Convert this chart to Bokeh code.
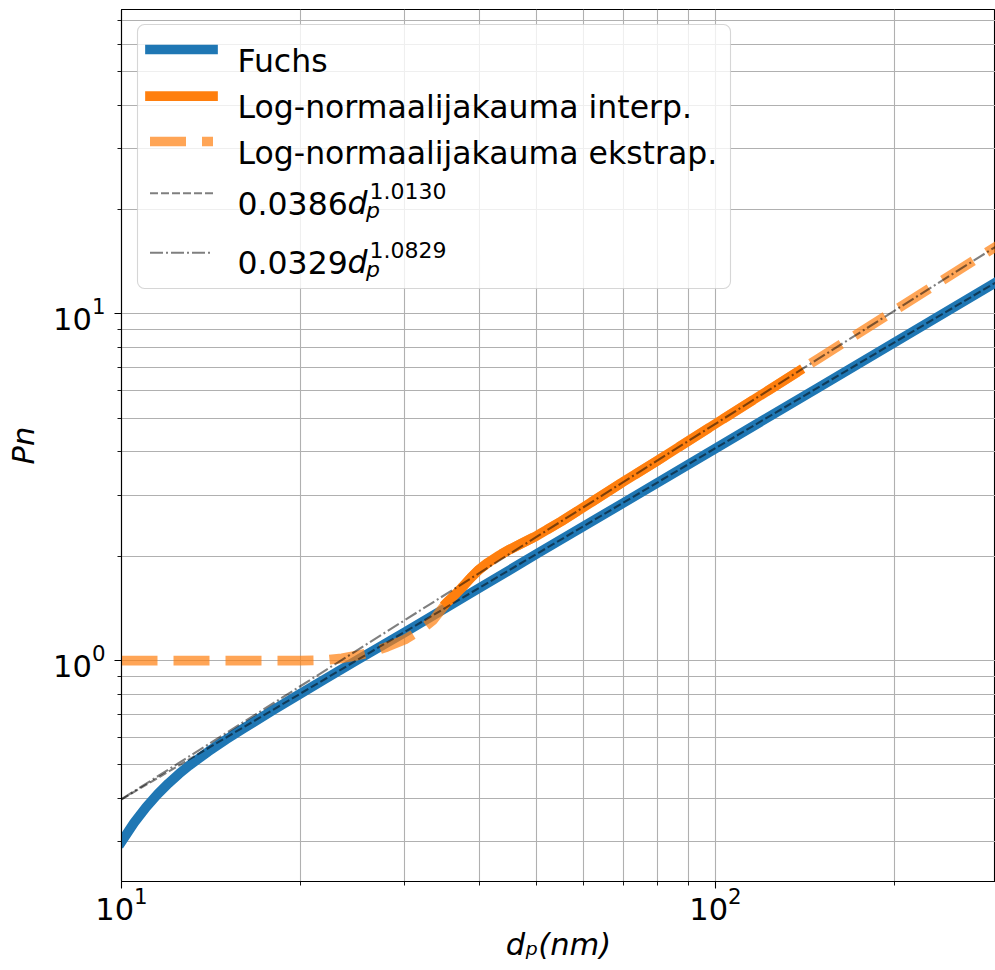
import math
from bokeh.plotting import figure
from bokeh.models import (FixedTicker, LogTickFormatter, Label, Arrow,
                          BoxAnnotation, Range1d)
from bokeh.embed import file_html
from bokeh.resources import INLINE

# ---------------- data ----------------
d_fuchs = [10, 10.5, 11, 11.5, 12, 12.5, 13, 14, 15, 16, 18, 20, 22, 25, 30,
           40, 50, 70, 100, 150, 200, 300]
pn_fuchs = [0.300, 0.3406, 0.3776, 0.4115, 0.4425, 0.4712, 0.498, 0.5464,
            0.5919, 0.6352, 0.7192, 0.802, 0.884, 1.006, 1.207, 1.617, 2.03,
            2.85, 4.09, 6.17, 8.26, 12.47]

d_interp = [35.3, 36.3, 37.5, 38.7, 40, 41.3, 43, 45, 47, 50, 55, 60, 70, 80,
            100, 120, 138]
pn_interp = [1.47, 1.54, 1.63, 1.73, 1.83, 1.91, 2.00, 2.09, 2.17, 2.29, 2.52,
             2.77, 3.28, 3.78, 4.82, 5.87, 6.83]

d_ekstrap = [10, 15, 20, 22, 23.5, 25, 26.5, 28, 30, 32, 33.5, 35.3, 36.3,
             37.5, 38.7, 40, 41.3, 43, 45, 47, 50, 55, 60, 70, 80, 100, 120,
             138, 150, 200, 250, 300]
pn_ekstrap = [1.0, 1.0, 1.0, 1.003, 1.015, 1.035, 1.06, 1.095, 1.15, 1.23,
              1.31, 1.47, 1.54, 1.63, 1.73, 1.83, 1.91, 2.00, 2.09, 2.17, 2.29,
              2.52, 2.77, 3.28, 3.78, 4.82, 5.87, 6.83, 7.48, 10.21, 13.0,
              15.83]

d_fit1 = [10, 300]
pn_fit1 = [0.3977, 12.47]
d_fit2 = [10, 300]
pn_fit2 = [0.3982, 15.83]

x_major_ticks = [10, 100]
x_minor_ticks = [20, 30, 40, 50, 60, 70, 80, 90, 200]
y_major_ticks = [1, 10]
y_minor_ticks = [0.3, 0.4, 0.5, 0.6, 0.7, 0.8, 0.9, 2, 3, 4, 5, 6, 7, 8, 9,
                 20, 30, 40, 50, 60, 70]

legend_labels = ["Fuchs", "Log-normaalijakauma interp.",
                 "Log-normaalijakauma ekstrap."]
fit_coefs = ["0.0386", "0.0329"]
fit_exps = ["1.0130", "1.0829"]
x_label = "d\u209a(nm)"
y_label = "Pn"

# ---------------- styling ----------------
BLUE = "#1f77b4"
ORANGE = "#ff7f0e"
FONT = "DejaVu Sans"
FS = "30.5px"
FS_LEG = "31.5px"
FS_SMALL = "22px"
LW = 9.7
GREY_LW = 2.1
GRID = "#b0b0b0"

W, H = 995, 970
FL, FT, FB = 121, 9, 881   # frame left / top / bottom in canvas pixels
X_LO, X_HI = 10, 296.1
Y_LO, Y_HI = 0.2305, 75.5


def sx(cx):
    return cx - FL


def sy(cy):
    return FB - cy


p = figure(width=W, height=H, x_axis_type="log", y_axis_type="log",
           x_range=Range1d(X_LO, X_HI), y_range=Range1d(Y_LO, Y_HI),
           output_backend="svg", toolbar_location=None,
           min_border_left=FL, min_border_right=0, min_border_top=FT,
           min_border_bottom=H - FB)
p.background_fill_color = "white"
p.border_fill_color = "white"
p.outline_line_color = "black"
p.outline_line_width = 1.1

p.xaxis.ticker = FixedTicker(ticks=x_major_ticks, minor_ticks=x_minor_ticks)
p.yaxis.ticker = FixedTicker(ticks=y_major_ticks, minor_ticks=y_minor_ticks)
p.xgrid.ticker = FixedTicker(ticks=x_major_ticks, minor_ticks=x_minor_ticks)
p.ygrid.ticker = FixedTicker(ticks=y_major_ticks, minor_ticks=y_minor_ticks)
p.xaxis.formatter = LogTickFormatter()
p.yaxis.formatter = LogTickFormatter()

for ax in (p.xaxis, p.yaxis):
    ax.axis_line_color = "black"
    ax.axis_line_width = 1.1
    ax.major_tick_line_color = "black"
    ax.major_tick_line_width = 1.1
    ax.minor_tick_line_color = "black"
    ax.minor_tick_line_width = 0.9
    ax.major_tick_in = 0
    ax.major_tick_out = 7
    ax.minor_tick_in = 0
    ax.minor_tick_out = 4
    ax.major_label_text_font = FONT
    ax.major_label_text_font_size = FS
    ax.major_label_text_color = "black"
    ax.axis_label_text_font = FONT
    ax.axis_label_text_font_size = FS
    ax.axis_label_text_font_style = "italic"
    ax.axis_label_text_color = "black"
p.xaxis.major_label_standoff = -2
p.yaxis.major_label_standoff = 9
p.yaxis.axis_label = y_label
p.yaxis.axis_label_standoff = 9
p.xaxis.axis_label = x_label
p.xaxis.axis_label_standoff = 4

for g in (p.xgrid, p.ygrid):
    g.grid_line_color = GRID
    g.grid_line_width = 1.1
    g.minor_grid_line_color = GRID
    g.minor_grid_line_width = 1.1

# ---------------- curves ----------------
p.line(d_fuchs, pn_fuchs, line_color=BLUE, line_width=LW, line_cap="square",
       line_join="round")
p.line(d_interp, pn_interp, line_color=ORANGE, line_width=LW,
       line_cap="square", line_join="round")
p.line(d_ekstrap, pn_ekstrap, line_color=ORANGE, line_alpha=0.7,
       line_width=LW, line_dash="36 16", line_join="round")
p.line(d_fit1, pn_fit1, line_color="black", line_alpha=0.5,
       line_width=GREY_LW, line_dash="8 3")
p.line(d_fit2, pn_fit2, line_color="black", line_alpha=0.5,
       line_width=GREY_LW, line_dash="13 3 2 3")

# ---------------- legend (hand built) ----------------
p.add_layout(BoxAnnotation(left=sx(137), right=sx(730), top=sy(24),
                           bottom=sy(288), left_units="screen",
                           right_units="screen", top_units="screen",
                           bottom_units="screen", fill_color="white",
                           fill_alpha=0.8, line_color="#cccccc",
                           line_alpha=0.8, line_width=1.1, border_radius=7))

handle_y = [49, 95.7, 141, 192.7, 252.3]
text_base = [60, 106, 152, 202.7, 261.7]
h_styles = [
    dict(line_color=BLUE, line_width=LW, line_cap="square"),
    dict(line_color=ORANGE, line_width=LW, line_cap="square"),
    dict(line_color=ORANGE, line_alpha=0.7, line_width=LW, line_dash="36 16"),
    dict(line_color="black", line_alpha=0.5, line_width=GREY_LW,
         line_dash="8 3"),
    dict(line_color="black", line_alpha=0.5, line_width=GREY_LW,
         line_dash="13 3 2 3"),
]
for hy, st in zip(handle_y, h_styles):
    p.add_layout(Arrow(end=None, x_start=sx(149.5), y_start=sy(hy),
                       x_end=sx(212.5), y_end=sy(hy), start_units="screen",
                       end_units="screen", **st))

TX = 237
for lab, tb in zip(legend_labels, text_base[:3]):
    p.add_layout(Label(x=sx(TX), y=sy(tb), x_units="screen", y_units="screen",
                       text=lab, text_font=FONT, text_font_size=FS_LEG,
                       text_baseline="alphabetic", text_align="left",
                       text_color="black"))
for coef, ex, tb in zip(fit_coefs, fit_exps, text_base[3:]):
    p.add_layout(Label(x=sx(TX), y=sy(tb), x_units="screen", y_units="screen",
                       text=coef, text_font=FONT, text_font_size=FS_LEG,
                       text_baseline="alphabetic", text_color="black"))
    p.add_layout(Label(x=sx(TX + 110), y=sy(tb), x_units="screen",
                       y_units="screen", text="d", text_font=FONT,
                       text_font_size=FS_LEG, text_font_style="italic",
                       text_baseline="alphabetic", text_color="black"))
    p.add_layout(Label(x=sx(TX + 128.5), y=sy(tb + 7.5), x_units="screen",
                       y_units="screen", text="p", text_font=FONT,
                       text_font_size=FS_SMALL, text_font_style="italic",
                       text_baseline="alphabetic", text_color="black"))
    p.add_layout(Label(x=sx(TX + 132), y=sy(tb - 12.7), x_units="screen",
                       y_units="screen", text=ex, text_font=FONT,
                       text_font_size=FS_SMALL, text_baseline="alphabetic",
                       text_color="black"))

open("out.html", "w").write(file_html(p, INLINE))
